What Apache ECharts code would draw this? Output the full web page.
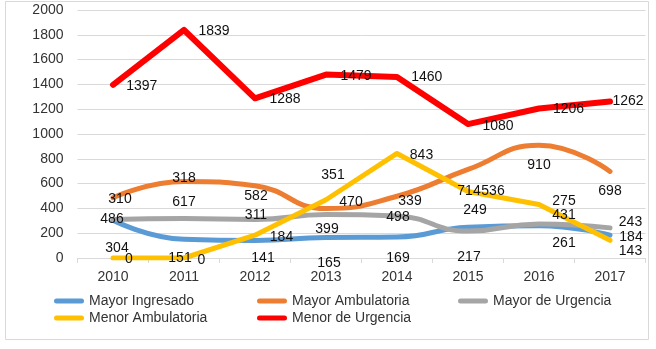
<!DOCTYPE html>
<html>
<head>
<meta charset="utf-8">
<script src="https://cdn.jsdelivr.net/npm/echarts@6/dist/echarts.min.js"></script>
<style>
html,body{margin:0;padding:0;background:#fff;}
#c{width:656px;height:349px;}
</style>
</head>
<body>
<div id="c"></div>
<script>
// ---- data ----
const years = ['2010','2011','2012','2013','2014','2015','2016','2017'];
const mayorIngresado   = [304, 151, 141, 165, 169, 249, 261, 184];
const mayorAmbulatoria = [486, 617, 582, 399, 498, 714, 910, 698];
const mayorUrgencia    = [310, 318, 311, 351, 339, 217, 275, 243];
const menorAmbulatoria = [0, 0, 184, 470, 843, 536, 431, 143];
const menorUrgencia    = [1397, 1839, 1288, 1479, 1460, 1080, 1206, 1262];
const seriesNames = ['Mayor Ingresado','Mayor Ambulatoria','Mayor de Urgencia','Menor Ambulatoria','Menor de Urgencia'];

// ---- layout (label offsets from each point, px) ----
const offIngresado   = [[4,28],[-4,19],[8,18],[3,26],[1,21],[7,-17],[25,18],[21,1.5]];
const offAmbulatoria = [[-1,21],[0,20.5],[1,10],[1,20.5],[1,21],[1,21.5],[0,20],[0,20]];
const offUrgencia    = [[7,-20.5],[0,-40.6],[1,-4.4],[7,-39.5],[13,-15],[1,26.4],[25,-23],[20.5,-6]];
const offMenorAmb    = [[16,1.5],[17.5,2],[26.5,2],[25,2],[24.5,1.5],[25,-0.5],[25,10.5],[20.5,10.5]];
const offMenorUrg    = [[28.7,1],[30,1],[30,1],[30,1.5],[29.7,0.5],[30,2],[29.5,0.5],[18,-0.5]];

const colors = ['#5B9BD5','#ED7D31','#A5A5A5','#FFC000','#FF0000'];
const values = [mayorIngresado, mayorAmbulatoria, mayorUrgencia, menorAmbulatoria, menorUrgencia];
const offsets = [offIngresado, offAmbulatoria, offUrgencia, offMenorAmb, offMenorUrg];
const smooth = [true, true, true, false, false];
const widths = [5, 5, 5, 5, 6];
const FONT = 'Liberation Sans, Arial, sans-serif';

const lineSeries = values.map((v, i) => ({
  name: seriesNames[i],
  type: 'line',
  data: v,
  smooth: smooth[i] ? 0.5 : false,
  symbol: 'none',
  color: colors[i],
  lineStyle: { color: colors[i], width: widths[i], cap: 'round', join: 'round' },
  z: 2 + i * 0.01,
  silent: true
}));

const labelSeries = values.map((v, i) => ({
  name: 'lbl' + i,
  type: 'line',
  data: v.map((val, j) => ({
    value: val,
    label: { offset: offsets[i][j] }
  })),
  symbol: 'circle',
  symbolSize: 1,
  showSymbol: true,
  showAllSymbol: true,
  itemStyle: { color: 'rgba(0,0,0,0)' },
  lineStyle: { width: 0, opacity: 0 },
  label: {
    show: true,
    position: 'inside',
    color: '#111',
    fontSize: 14,
    fontFamily: FONT
  },
  z: 10,
  silent: true
}));

const legendPos = [[54,294],[257,294],[458,294],[54,311],[257,311]];
const legendIcon = 'path://M2.5,0 H27.5 A2.5,2.5 0 0 1 27.5,5 H2.5 A2.5,2.5 0 0 1 2.5,0 Z';
const legends = seriesNames.map((n, i) => ({
  data: [n],
  left: legendPos[i][0],
  top: legendPos[i][1],
  padding: 0,
  itemWidth: 30,
  itemHeight: 5,
  icon: legendIcon,
  selectedMode: false,
  textStyle: { color: '#333', fontSize: 14, fontFamily: FONT }
}));

const chart = echarts.init(document.getElementById('c'), null, { renderer: 'canvas' });
chart.setOption({
  animation: false,
  backgroundColor: '#fff',
  color: colors,
  grid: { left: 77.5, right: 10.5, top: 10, bottom: 91, containLabel: false },
  xAxis: {
    type: 'category',
    data: years,
    boundaryGap: true,
    axisLine: { show: true, lineStyle: { color: '#d9d9d9', width: 1 } },
    axisTick: { show: true, length: 5, lineStyle: { color: '#d9d9d9' } },
    axisLabel: { color: '#333', fontSize: 14, fontFamily: FONT, margin: 12 }
  },
  yAxis: {
    type: 'value',
    min: 0, max: 2000, interval: 200,
    axisLine: { show: false },
    axisTick: { show: false },
    splitLine: { show: true, lineStyle: { color: '#d9d9d9', width: 1 } },
    axisLabel: { color: '#333', fontSize: 14, fontFamily: FONT, margin: 14,
                 formatter: (v) => String(v) }
  },
  legend: legends,
  graphic: [{
    type: 'rect',
    shape: { x: 5.5, y: 1.5, width: 643, height: 338 },
    style: { fill: 'none', stroke: '#d9d9d9', lineWidth: 1 },
    silent: true,
    z: 0
  }],
  series: lineSeries.concat(labelSeries)
});
</script>
</body>
</html>
